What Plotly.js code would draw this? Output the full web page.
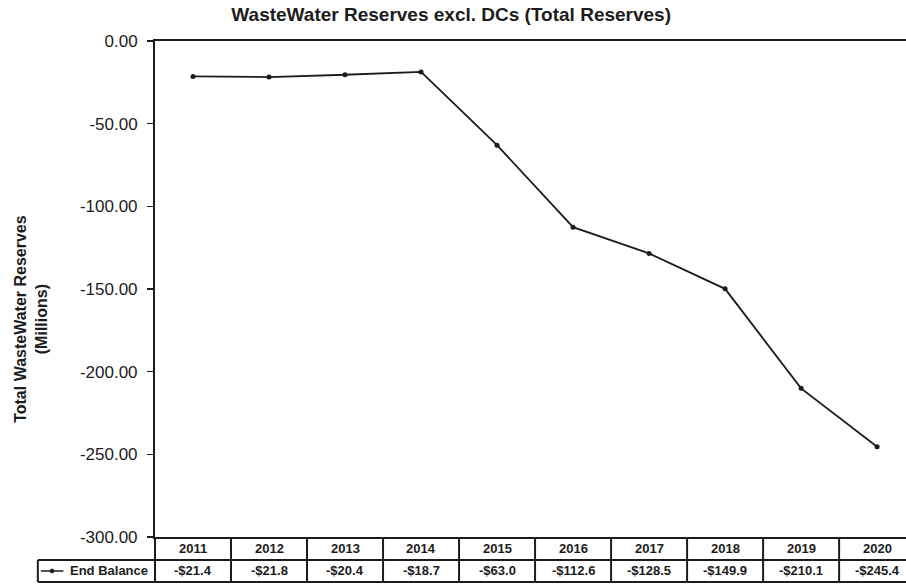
<!DOCTYPE html>
<html>
<head>
<meta charset="utf-8">
<script src="https://cdn.plot.ly/plotly-3.0.1.min.js"></script>
<style>html,body{margin:0;padding:0;background:#fff;}#chart{width:906px;height:586px;}</style>
</head>
<body>
<div id="chart"></div>
<script>
const years = ["2011","2012","2013","2014","2015","2016","2017","2018","2019","2020"];
const endBalance = [-21.4, -21.8, -20.4, -18.7, -63.0, -112.6, -128.5, -149.9, -210.1, -245.4];
const balanceLabels = ["-$21.4","-$21.8","-$20.4","-$18.7","-$63.0","-$112.6","-$128.5","-$149.9","-$210.1","-$245.4"];
const seriesName = "End Balance";
const tickVals = [0, -50, -100, -150, -200, -250, -300];
const tickLabels = ["0.00","-50.00","-100.00","-150.00","-200.00","-250.00","-300.00"];

const idx = years.map((_, i) => i);
const ink = "#1c1c1c";
const rowTop = 0, rowMid = -0.0464, rowBot = -0.0907;

const shapes = [];
[rowMid, rowBot].forEach(y => shapes.push({type:"line", xref:"paper", yref:"paper", x0:0, x1:1.02, y0:y, y1:y, line:{color:ink, width:2}}));
for (let i = 0; i < years.length; i++) {
  shapes.push({type:"line", xref:"x", yref:"paper", x0:i+0.5, x1:i+0.5, y0:rowTop, y1:rowBot, line:{color:ink, width:2}});
}
const lx0 = -0.156;
shapes.push({type:"line", xref:"paper", yref:"paper", x0:lx0, x1:0, y0:rowMid, y1:rowMid, line:{color:ink, width:2}});
shapes.push({type:"line", xref:"paper", yref:"paper", x0:lx0, x1:0, y0:rowBot, y1:rowBot, line:{color:ink, width:2}});
shapes.push({type:"line", xref:"paper", yref:"paper", x0:lx0, x1:lx0, y0:rowMid, y1:rowBot, line:{color:ink, width:2}});
shapes.push({type:"line", xref:"paper", yref:"paper", x0:0, x1:0, y0:rowTop, y1:rowBot, line:{color:ink, width:2}});
shapes.push({type:"line", xref:"paper", yref:"paper", x0:-0.152, x1:-0.122, y0:-0.0685, y1:-0.0685, line:{color:ink, width:1.5}});
shapes.push({type:"circle", xref:"paper", yref:"paper", x0:-0.1395, x1:-0.1345, y0:-0.0685-0.0038, y1:-0.0685+0.0038, fillcolor:ink, line:{color:ink, width:1}});

const annotations = [];
years.forEach((y, i) => {
  annotations.push({xref:"x", yref:"paper", x:i, y:-0.0232, text:y, showarrow:false, font:{family:"Liberation Sans, Arial", size:13, color:ink, weight:"bold"}, xanchor:"center", yanchor:"middle"});
  annotations.push({xref:"x", yref:"paper", x:i, y:-0.0685, text:balanceLabels[i], showarrow:false, font:{family:"Liberation Sans, Arial", size:13, color:ink, weight:"bold"}, xanchor:"center", yanchor:"middle"});
});
annotations.push({xref:"paper", yref:"paper", x:-0.006, y:-0.0685, text:"<b>" + seriesName + "</b>", showarrow:false, font:{family:"Liberation Sans, Arial", size:13, color:ink}, xanchor:"right", yanchor:"middle"});
annotations.push({xref:"paper", yref:"paper", x:-0.165, y:0.44, text:"<b>Total WasteWater Reserves<br>(Millions)</b>", textangle:-90, showarrow:false, font:{family:"Liberation Sans, Arial", size:16, color:ink}, xanchor:"center", yanchor:"middle"});

const trace = {
  x: idx, y: endBalance, type:"scatter", mode:"lines+markers", name: seriesName,
  line:{color:ink, width:1.8}, marker:{color:ink, size:5}, cliponaxis:false
};

const layout = {
  width:906, height:586,
  margin:{l:155, r:0, t:41, b:49},
  paper_bgcolor:"#fff", plot_bgcolor:"#fff",
  showlegend:false,
  title:{text:"<b>WasteWater Reserves excl. DCs (Total Reserves)</b>", x:0.498, xref:"container", xanchor:"center", y:0.976, yanchor:"middle", font:{family:"Liberation Sans, Arial", size:19, color:ink}},
  xaxis:{range:[-0.5, 9.38], showticklabels:false, ticks:"", showgrid:false, zeroline:false, showline:true, mirror:true, linecolor:ink, linewidth:2, fixedrange:true},
  yaxis:{range:[-300, 0], tickvals:tickVals, ticktext:tickLabels, ticks:"outside", ticklen:6, tickcolor:ink, tickwidth:1.5, ticklabelstandoff:6, showgrid:false, zeroline:false, showline:true, linecolor:ink, linewidth:2, tickfont:{family:"Liberation Sans, Arial", size:17, color:ink}, fixedrange:true},
  shapes: shapes,
  annotations: annotations
};
Plotly.newPlot("chart", [trace], layout, {displayModeBar:false, staticPlot:true});
</script>
</body>
</html>
